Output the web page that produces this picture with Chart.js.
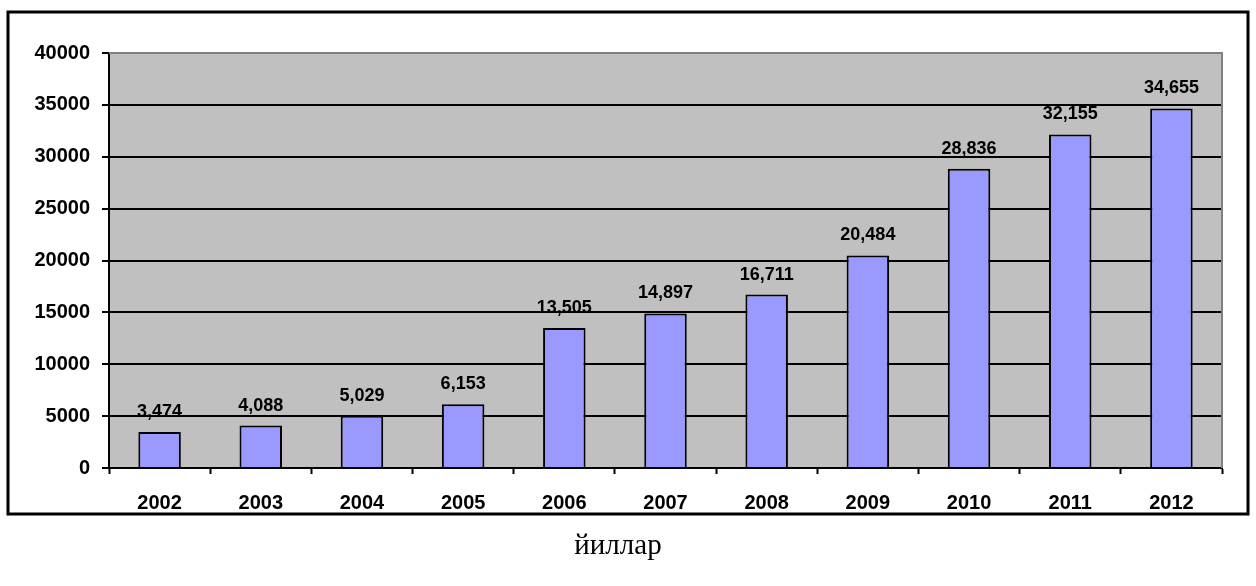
<!DOCTYPE html>
<html>
<head>
<meta charset="utf-8">
<script src="https://cdn.jsdelivr.net/npm/chart.js@4"></script>
<style>
  body { margin: 0; background: #fff; }
  #wrap { width: 1256px; height: 586px; position: relative; }
</style>
</head>
<body>
<div id="wrap"><canvas id="myChart"></canvas></div>
<script>
// dati
const years = ['2002', '2003', '2004', '2005', '2006', '2007', '2008', '2009', '2010', '2011', '2012'];
const values = [3474, 4088, 5029, 6153, 13505, 14897, 16711, 20484, 28836, 32155, 34655];
const yTicks = [0, 5000, 10000, 15000, 20000, 25000, 30000, 35000, 40000];
const axisTitle = 'йиллар';

const boldFont = 'Liberation Sans, Arial, sans-serif';

// cornice esterna, sfondo grigio dell'area e titolo asse sotto la cornice
const framePlugin = {
  id: 'frame',
  beforeDraw(chart) {
    const ctx = chart.ctx;
    const a = chart.chartArea;
    ctx.save();
    ctx.fillStyle = '#ffffff';
    ctx.fillRect(0, 0, chart.width, chart.height);
    ctx.fillStyle = '#c0c0c0';
    ctx.fillRect(a.left, a.top, a.right - a.left, a.bottom - a.top);
    ctx.strokeStyle = '#000';
    ctx.lineWidth = 3;
    ctx.strokeRect(8, 12, 1240, 502);
    ctx.restore();
  },
  afterDraw(chart) {
    const ctx = chart.ctx;
    const a = chart.chartArea;
    ctx.save();
    ctx.strokeStyle = '#808080';
    ctx.lineWidth = 2;
    ctx.beginPath();
    ctx.moveTo(a.left, a.top);
    ctx.lineTo(a.right, a.top);
    ctx.lineTo(a.right, a.bottom);
    ctx.stroke();
    // titolo asse x
    ctx.fillStyle = '#000';
    ctx.font = '29px Liberation Serif, Times New Roman, serif';
    ctx.textAlign = 'center';
    ctx.textBaseline = 'middle';
    ctx.fillText(axisTitle, 618, 546);
    ctx.restore();
  }
};

// etichette sopra le barre
const labelPlugin = {
  id: 'barLabels',
  afterDatasetsDraw(chart) {
    const ctx = chart.ctx;
    const meta = chart.getDatasetMeta(0);
    ctx.save();
    ctx.fillStyle = '#000';
    ctx.font = 'bold 18px ' + boldFont;
    ctx.textAlign = 'center';
    ctx.textBaseline = 'alphabetic';
    meta.data.forEach(function (bar, i) {
      ctx.fillText(values[i].toLocaleString('en-US'), bar.x, bar.y - 15);
    });
    ctx.restore();
  }
};

const data = {
  labels: years,
  datasets: [{
    data: values,
    backgroundColor: '#9999ff',
    borderColor: '#000',
    borderWidth: 2,
    barPercentage: 0.42,
    categoryPercentage: 1
  }]
};

const config = {
  type: 'bar',
  data: data,
  options: {
    responsive: true,
    maintainAspectRatio: false,
    animation: false,
    layout: { padding: { left: 10, top: 53, right: 34, bottom: 0 } },
    plugins: { legend: { display: false }, tooltip: { enabled: false } },
    scales: {
      x: {
        grid: { display: true, drawOnChartArea: false, drawTicks: true, tickLength: 6, tickWidth: 2, tickColor: '#000', offset: true },
        border: { color: '#000', width: 2 },
        ticks: { color: '#000', font: { family: boldFont, size: 20, weight: 'bold' }, padding: 17 },
        afterFit(scale) { scale.height = 118; }
      },
      y: {
        min: 0,
        max: 40000,
        afterBuildTicks(scale) { scale.ticks = yTicks.map(v => ({ value: v })); },
        grid: { color: '#000', lineWidth: 2, tickLength: 7, tickColor: '#000', tickWidth: 2 },
        border: { color: '#000', width: 2 },
        ticks: {
          color: '#000',
          font: { family: boldFont, size: 20, weight: 'bold' },
          padding: 12,
          callback: function (v) { return String(v); }
        },
        afterFit(scale) { scale.width = 99; }
      }
    }
  },
  plugins: [framePlugin, labelPlugin]
};

var ctx = document.getElementById('myChart').getContext('2d');
const myChart = new Chart(ctx, config);
</script>
</body>
</html>
